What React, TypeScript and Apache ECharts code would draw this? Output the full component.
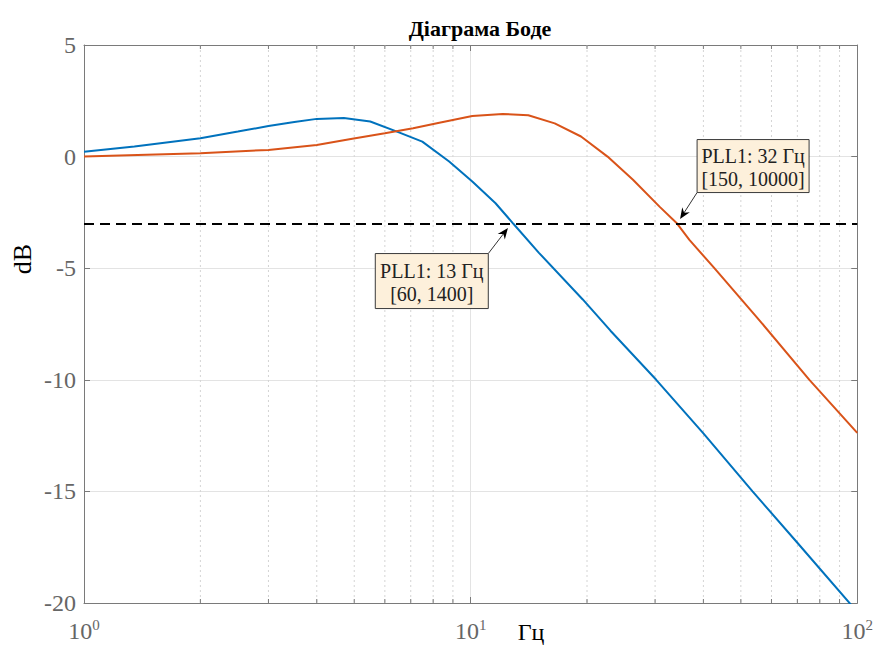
import React, { useEffect, useRef } from 'react';
import * as echarts from 'echarts';

const chartTitle = 'Діаграма Боде';
const xName = 'Гц';
const yName = 'dB';

const xMin = 1;
const xMax = 100;
const yMin = -20;
const yMax = 5;
const yStep = 5;
const threshold = -3;

const blueFreq = [1, 1.35, 2, 2.5, 3, 3.5, 4, 4.7, 5.5, 6.45, 7.5, 8.8, 10.1, 11.6, 12.9, 15, 19.5, 23, 30.2, 40, 53.6, 70, 100];
const blueDb = [0.22, 0.45, 0.82, 1.12, 1.37, 1.55, 1.69, 1.73, 1.57, 1.12, 0.67, -0.22, -1.12, -2.09, -3.01, -4.3, -6.4, -7.8, -10, -12.4, -15, -17.3, -20.4];

const orangeFreq = [1, 2, 3, 4, 4.9, 6, 7.1, 8.3, 10.1, 12.1, 14.1, 16.5, 19.3, 22.6, 26.3, 30.8, 34.2, 36.8, 42.7, 55, 75.2, 100];
const orangeDb = [0, 0.15, 0.3, 0.52, 0.79, 1.05, 1.27, 1.52, 1.82, 1.91, 1.85, 1.49, 0.9, 0, -1.04, -2.24, -3, -3.73, -5, -7.2, -10, -12.38];

const minorFreq = [2, 3, 4, 5, 6, 7, 8, 9, 20, 30, 40, 50, 60, 70, 80, 90];

const tipNames = ['PLL1: 13 Гц', 'PLL1: 32 Гц'];
const tipRanges = ['[60, 1400]', '[150, 10000]'];
const tipFreq = [12.74, 34.2];
const tipDb = [-3, -3];

const FONT = "'Liberation Serif', 'Times New Roman', serif";
const AXIS_GRAY = '#7a7a7a';
const LABEL_GRAY = '#666666';

export default function App() {
  const ref = useRef<HTMLDivElement>(null);

  useEffect(() => {
    if (!ref.current) return;
    const chart = echarts.init(ref.current, undefined, { renderer: 'svg' });

    const supMap = (v: number) => {
      const e = Math.round(Math.log10(v));
      return `{b|10}{s|${e}}`;
    };

    const option: any = {
      animation: false,
      backgroundColor: '#ffffff',
      title: {
        text: chartTitle,
        left: 475,
        textAlign: 'center',
        top: 12,
        textStyle: { fontFamily: FONT, fontSize: 22, fontWeight: 'bold', color: '#000' },
      },
      grid: { left: 84, right: 18, top: 45, bottom: 42, containLabel: false },
      xAxis: [
        {
          type: 'log',
          logBase: 10,
          min: xMin,
          max: xMax,
          position: 'bottom',
          axisLine: { show: true, onZero: false, lineStyle: { color: AXIS_GRAY, width: 1 } },
          axisTick: { show: true, inside: true, length: 6, lineStyle: { color: AXIS_GRAY } },
          axisLabel: {
            formatter: supMap,
            margin: 14,
            rich: {
              b: { fontFamily: FONT, fontSize: 24, color: LABEL_GRAY, lineHeight: 28 },
              s: { fontFamily: FONT, fontSize: 15, color: LABEL_GRAY, lineHeight: 15, verticalAlign: 'top' },
            },
          },
          splitLine: { show: true, lineStyle: { color: '#e3e3e3', width: 1 } },
        },
        {
          type: 'log',
          logBase: 10,
          min: xMin,
          max: xMax,
          position: 'top',
          axisLine: { show: true, onZero: false, lineStyle: { color: AXIS_GRAY, width: 1 } },
          axisTick: { show: true, inside: true, length: 6, lineStyle: { color: AXIS_GRAY } },
          axisLabel: { show: false },
          splitLine: { show: false },
        },
      ],
      yAxis: [
        {
          type: 'value',
          min: yMin,
          max: yMax,
          interval: yStep,
          position: 'left',
          axisLine: { show: true, onZero: false, lineStyle: { color: AXIS_GRAY, width: 1 } },
          axisTick: { show: true, inside: true, length: 6, lineStyle: { color: AXIS_GRAY } },
          axisLabel: { fontFamily: FONT, fontSize: 24, color: LABEL_GRAY, margin: 8 },
          splitLine: { show: true, lineStyle: { color: '#e3e3e3', width: 1 } },
        },
        {
          type: 'value',
          min: yMin,
          max: yMax,
          interval: yStep,
          position: 'right',
          axisLine: { show: true, onZero: false, lineStyle: { color: AXIS_GRAY, width: 1 } },
          axisTick: { show: true, inside: true, length: 6, lineStyle: { color: AXIS_GRAY } },
          axisLabel: { show: false },
          splitLine: { show: false },
        },
      ],
      series: [
        {
          type: 'custom',
          coordinateSystem: 'cartesian2d',
          xAxisIndex: 0,
          yAxisIndex: 0,
          silent: true,
          z: 1,
          data: minorFreq.map((f) => [f, yMin]),
          encode: { x: 0, y: 1 },
          renderItem: (params: any, api: any) => {
            const f = api.value(0);
            const top = api.coord([f, yMax]);
            const bot = api.coord([f, yMin]);
            return {
              type: 'group',
              children: [
                {
                  type: 'line',
                  shape: { x1: top[0], y1: top[1], x2: bot[0], y2: bot[1] },
                  style: { stroke: '#d4d4d4', lineWidth: 1, lineDash: [2, 3] },
                },
                {
                  type: 'line',
                  shape: { x1: bot[0], y1: bot[1], x2: bot[0], y2: bot[1] - 4 },
                  style: { stroke: AXIS_GRAY, lineWidth: 1 },
                },
                {
                  type: 'line',
                  shape: { x1: top[0], y1: top[1], x2: top[0], y2: top[1] + 4 },
                  style: { stroke: AXIS_GRAY, lineWidth: 1 },
                },
              ],
            };
          },
        },
        {
          name: 'PLL 13',
          type: 'line',
          z: 3,
          symbol: 'none',
          smooth: false,
          data: blueFreq.map((f, i) => [f, blueDb[i]]),
          lineStyle: { color: '#0072BD', width: 2 },
          itemStyle: { color: '#0072BD' },
          markLine: {
            silent: true,
            symbol: ['none', 'none'],
            label: { show: false },
            lineStyle: { color: '#000000', type: [10, 6], width: 2 },
            data: [{ yAxis: threshold }],
          },
        },
        {
          name: 'PLL 32',
          type: 'line',
          z: 3,
          symbol: 'none',
          smooth: false,
          data: orangeFreq.map((f, i) => [f, orangeDb[i]]),
          lineStyle: { color: '#D95319', width: 2 },
          itemStyle: { color: '#D95319' },
        },
      ],
    };

    chart.setOption(option);

    const graphics: any[] = [
      {
        type: 'text',
        x: 22,
        y: 259,
        rotation: Math.PI / 2,
        style: { text: yName, fontFamily: FONT, fontSize: 26, fill: '#000', align: 'center', verticalAlign: 'middle' },
      },
      {
        type: 'text',
        x: 531,
        y: 632,
        style: { text: xName, fontFamily: FONT, fontSize: 24, fill: '#000', align: 'center', verticalAlign: 'middle' },
      },
    ];

    tipFreq.forEach((f, i) => {
      const p = chart.convertToPixel({ xAxisIndex: 0, yAxisIndex: 0 }, [f, tipDb[i]]) as number[];
      let bx: number, by: number, bw: number, bh: number, cx: number, cy: number;
      if (i === 0) {
        bw = 113; bh = 55;
        cx = p[0] - 23; cy = p[1] + 30;
        bx = cx - bw; by = cy;
      } else {
        bw = 112; bh = 53;
        cx = p[0] + 20; cy = p[1] - 31;
        bx = cx; by = cy - bh;
      }
      const dx = p[0] - cx;
      const dy = p[1] - cy;
      const len = Math.sqrt(dx * dx + dy * dy);
      const ux = dx / len;
      const uy = dy / len;
      const nx = -uy;
      const ny = ux;
      const tx = p[0] - 5.5 * ux;
      const ty = p[1] - 5.5 * uy;
      graphics.push({
        type: 'line',
        z: 50,
        shape: { x1: cx, y1: cy, x2: tx - 7 * ux, y2: ty - 7 * uy },
        style: { stroke: '#333', lineWidth: 1 },
      });
      graphics.push({
        type: 'polygon',
        z: 50,
        shape: {
          points: [
            [tx, ty],
            [tx - 11 * ux + 4.5 * nx, ty - 11 * uy + 4.5 * ny],
            [tx - 7.5 * ux, ty - 7.5 * uy],
            [tx - 11 * ux - 4.5 * nx, ty - 11 * uy - 4.5 * ny],
          ],
        },
        style: { fill: '#000' },
      });
      graphics.push({
        type: 'rect',
        z: 50,
        shape: { x: bx, y: by, width: bw, height: bh },
        style: { fill: '#fdf0db', stroke: '#3a3a3a', lineWidth: 1 },
      });
      graphics.push({
        type: 'text',
        z: 51,
        x: bx + bw / 2,
        y: by + bh / 2 + 1,
        style: {
          text: tipNames[i] + '\n' + tipRanges[i],
          fontFamily: FONT,
          fontSize: 20,
          lineHeight: 23,
          fill: '#222',
          align: 'center',
          verticalAlign: 'middle',
        },
      });
    });

    chart.setOption({ graphic: graphics });

    return () => {
      chart.dispose();
    };
  }, []);

  return (
    <div
      ref={ref}
      style={{ position: 'fixed', left: 0, top: 0, width: 876, height: 645, background: '#fff' }}
    />
  );
}
